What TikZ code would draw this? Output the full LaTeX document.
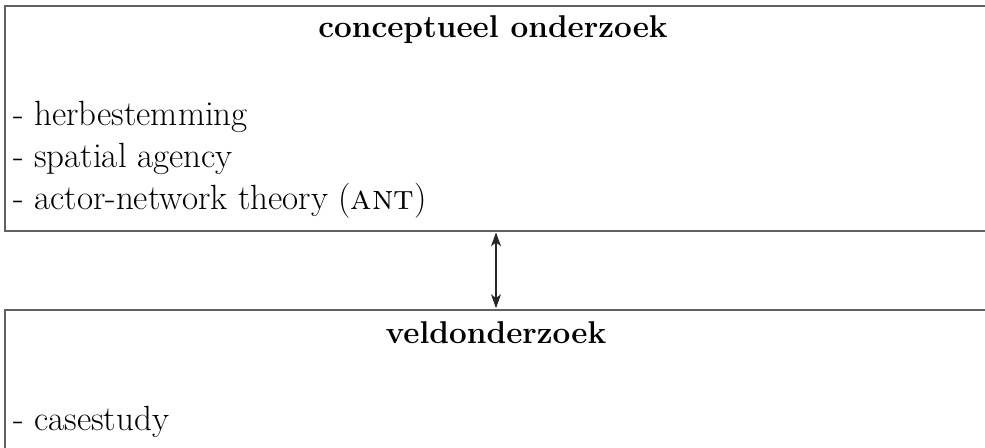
\documentclass[tikz,border=0pt]{standalone}
\usetikzlibrary{arrows.meta}
\begin{document}
\begin{tikzpicture}[x=1pt,y=-1pt,
  box/.style={draw=black!62,line width=1.6pt,rectangle,inner sep=0pt,anchor=north west},
  ttl/.style={anchor=base,inner sep=0pt,font=\fontsize{31.5}{38}\selectfont\bfseries},
  item/.style={anchor=base west,inner sep=0pt,font=\fontsize{35}{42}\selectfont},
  link/.style={draw=black!85,line width=1.1pt,{Stealth[length=14pt,width=10pt,inset=4pt]}-{Stealth[length=14pt,width=10pt,inset=4pt]}}]
\useasboundingbox (0,0) rectangle (985,447);
\clip (0,0) rectangle (985,447);
\node[box,minimum width=990pt,minimum height=225pt] (top) at (4,5) {};
\node[box,minimum width=990pt,minimum height=160pt] (bot) at (4,309) {};
\node[ttl] (t1) at (493,37) {conceptueel onderzoek};
\node[item] (i1) at (13,125) {- herbestemming};
\node[item] (i2) at (13,167) {- spatial agency};
\node[item] (i3) at (13,209) {- actor-network theory (\textsc{ant})};
\node[ttl] (t2) at (496,343) {veldonderzoek};
\node[item] (i4) at (13,430) {- casestudy};
\coordinate (ax) at (496,0);
\draw[link] ([yshift=-0.8pt]top.south -| ax) -- ([yshift=0.8pt]bot.north -| ax);
\end{tikzpicture}
\end{document}
